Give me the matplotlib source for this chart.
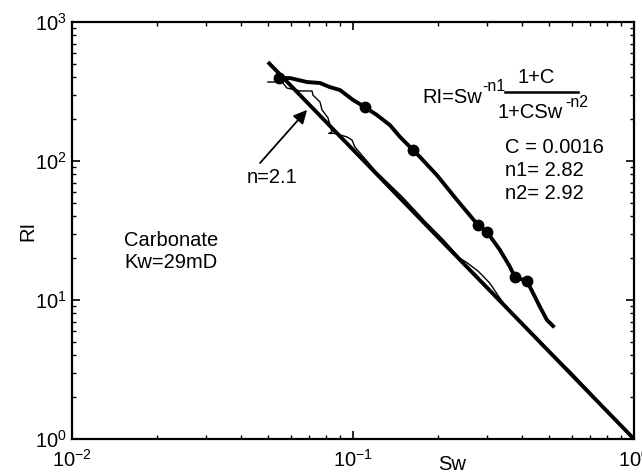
import matplotlib.pyplot as plt

plt.rcParams["font.family"] = ["Liberation Sans", "DejaVu Sans"]
plt.rcParams["mathtext.fontset"] = "custom"
plt.rcParams["mathtext.rm"] = "Liberation Sans"
plt.rcParams["mathtext.it"] = "Liberation Sans"

# fitted Archie line, n = 2.1 (two end points, straight in log-log)
fit_sw = [0.0498, 1.0]
fit_ri = [515, 1.0]

# measured curve (thin) lying close to the fit
meas_sw = [0.0498, 0.0564, 0.0545, 0.0582, 0.0648, 0.0715, 0.0720, 0.0763, 0.0776,
           0.0815, 0.0841, 0.0820, 0.0860, 0.0899, 0.0952, 0.0992, 0.1016, 0.12, 0.15,
           0.18, 0.21, 0.24, 0.255, 0.28, 0.307, 0.33, 0.3475, 0.40, 0.50, 0.60,
           0.75, 0.90, 1.0]
meas_ri = [370, 370, 395, 335, 319, 319, 298, 266, 233,
           204, 162, 158, 158, 154, 149, 141.6, 126, 85, 55,
           37, 27, 20, 18.5, 16, 13.2, 10.6, 9.2, 6.8, 4.3, 3.0,
           1.85, 1.25, 1.0]

# upper curve from the C-model (thick)
model_sw = [0.0545, 0.0597, 0.0686, 0.0763, 0.0828, 0.0899, 0.100, 0.110, 0.1217,
            0.1354, 0.147, 0.1635, 0.173, 0.199, 0.2345, 0.2786, 0.300, 0.3334,
            0.362, 0.377, 0.416, 0.463, 0.490, 0.515]
model_ri = [395, 395, 370, 364, 340, 324, 275, 245, 214,
            181, 149, 120, 107, 79, 52.4, 34.6, 30.8, 22.9,
            17.3, 14.6, 13.7, 8.9, 7.18, 6.5]

# data points marked on the upper curve
dot_sw = [0.0545, 0.110, 0.1635, 0.2786, 0.300, 0.377, 0.416]
dot_ri = [395, 245, 120, 34.6, 30.8, 14.6, 13.7]

fig = plt.figure(figsize=(6.42, 4.75), dpi=100)
ax = fig.add_axes([72 / 642, 36 / 475, 562 / 642, 417 / 475])

ax.plot(fit_sw, fit_ri, color="black", lw=2.8, solid_capstyle="butt")
ax.plot(meas_sw, meas_ri, color="black", lw=1.0)
ax.plot(model_sw, model_ri, color="black", lw=2.8)
ax.plot(dot_sw, dot_ri, "o", color="black", ms=7.5)

ax.set_xscale("log")
ax.set_yscale("log")
ax.set_xlim(1e-2, 1e0)
ax.set_ylim(1e0, 1e3)

ax.tick_params(which="both", direction="in", top=True, right=True, labelsize=14.5)
ax.tick_params(axis="y", which="major", pad=4)
ax.tick_params(axis="x", which="major", pad=7)
ax.tick_params(which="major", length=6, width=1.2)
ax.tick_params(which="minor", length=3, width=1.0)
for s in ax.spines.values():
    s.set_linewidth(1.6)

fs = 14.5
ax.set_xlabel("Sw", fontsize=fs)
ax.set_ylabel("RI", fontsize=fs)
ax.xaxis.set_label_coords(0.676, -0.038)
ax.yaxis.set_label_coords(-0.062, 0.5)

tr = ax.transAxes
ax.text(0.0925, 0.477, "Carbonate", transform=tr, fontsize=fs, va="center")
ax.text(0.0925, 0.424, "Kw=29mD", transform=tr, fontsize=fs, va="center")

ax.annotate("", xy=(0.0686, 233), xytext=(0.0467, 96.8),
            arrowprops=dict(arrowstyle="-|>", color="black", lw=1.3,
                            mutation_scale=20, shrinkA=0, shrinkB=0))
ax.text(0.311, 0.628, "n=2.1", transform=tr, fontsize=fs, va="center")

# model equation
ax.text(0.623, 0.818, "RI=Sw", transform=tr, fontsize=fs, va="center")
ax.text(0.7295, 0.845, "-n1", transform=tr, fontsize=11.5, va="center")
ax.plot([0.770, 0.900], [0.832, 0.832], transform=tr, color="black", lw=1.8)
ax.text(0.8256, 0.868, "1+C", transform=tr, fontsize=fs, va="center", ha="center")
ax.text(0.758, 0.784, "1+CSw", transform=tr, fontsize=fs, va="center")
ax.text(0.877, 0.808, "-n2", transform=tr, fontsize=11.5, va="center")

ax.text(0.770, 0.700, "C = 0.0016", transform=tr, fontsize=fs, va="center")
ax.text(0.770, 0.643, "n1= 2.82", transform=tr, fontsize=fs, va="center")
ax.text(0.770, 0.588, "n2= 2.92", transform=tr, fontsize=fs, va="center")

fig.savefig("out.png", dpi=100)
